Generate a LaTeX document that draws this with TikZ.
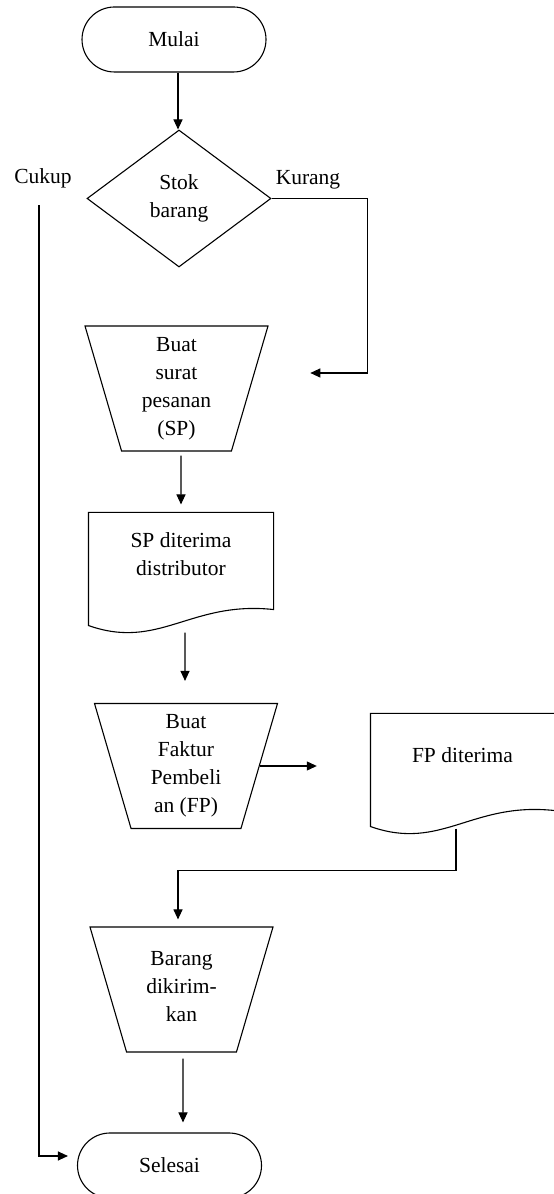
\documentclass[tikz,border=0pt]{standalone}
\usepackage{fontspec}
\setmainfont{Liberation Serif}
\usetikzlibrary{calc,shapes.geometric,shapes.misc,arrows.meta}
\newcommand{\dokumen}[1]{\draw ($(#1.north west)$) -- ($(#1.north east)$) -- ($(#1.south east)+(0,-14)$) .. controls ($(#1.south east)+(-83,-5)$) and ($(#1.south west)+(71,-55)$) .. ($(#1.south west)+(0,-30)$) -- cycle;}
\newcommand{\isi}[1]{\parbox[c][100pt][c]{90pt}{\centering #1}}

\begin{document}
\begin{tikzpicture}[x=1pt,y=1pt,line width=1.1pt,>={Triangle[length=10pt,width=9pt]}]
       \tikzstyle{teks} = [font=\fontsize{21.5}{28}\selectfont, align=center, inner sep=0pt];
       \tikzstyle{terminal} = [teks, rounded rectangle, draw, minimum width=184pt, minimum height=65pt];
       \tikzstyle{keputusan} = [teks, diamond, draw, minimum width=184pt, minimum height=137pt];
       \tikzstyle{manual} = [teks, trapezium, draw, shape border rotate=180, trapezium angle=73.7, trapezium stretches body, minimum width=183pt, inner ysep=12.5pt];
       \tikzstyle{dok} = [teks, rectangle, minimum width=184pt, minimum height=82pt];
       \useasboundingbox (0,0) rectangle (554,1194);

       \node[terminal] (mulai) at (174,1154.5) {Mulai};
       \node[keputusan] (stok) at (179,995.5) {Stok\\barang};
       \node[teks] (kurang) at (308,1014) {Kurang};
       \node[teks] (cukup) at (43,1016) {Cukup};
       \node[manual] (buatsp) at (176.5,805.5) {\isi{Buat\\surat\\pesanan\\(SP)}};
       \node[dok] (spdist) at (181,640) {SP diterima\\distributor};
       \node[manual] (faktur) at (186,428) {\isi{Buat\\Faktur\\Pembeli\\an (FP)}};
       \node[dok, minimum width=183pt] (fpterima) at (462.5,439) {FP diterima};
       \node[manual] (barang) at (181.5,204.5) {\isi{Barang\\dikirim-\\kan\\[6pt]}};
       \node[terminal] (selesai) at (169.5,28.5) {Selesai};

       \dokumen{spdist}
       \dokumen{fpterima}

       \draw[->] ($(mulai.south)+(4,0)$) -- ($(stok.north)+(-1,0)$);
       \draw[->] (stok.east) -| ($(buatsp.east)+(117,15.5)$) -- ($(buatsp.east)+(60,15.5)$);
       \draw[->] ($(cukup.south)+(-4,-17)$) |- ($(selesai.west)+(-9,9.5)$);
       \draw[->] ($(buatsp.south)+(4.5,-4)$) -- ($(spdist.north)+(0,8)$);
       \draw[->] ($(spdist.south)+(4,-37)$) -- ($(faktur.north)+(-1,22)$);
       \draw[->] (faktur.east) -- ($(faktur.east)+(57,0)$);
       \draw[->] ($(fpterima.south)+(-6.5,-32)$) |- ($(barang.north)+(-3.5,56)$) -- ($(barang.north)+(-3.5,7)$);
       \draw[->] ($(barang.south)+(1.5,-6)$) -- ($(selesai.north)+(13.5,10)$);
\end{tikzpicture}
\end{document}
